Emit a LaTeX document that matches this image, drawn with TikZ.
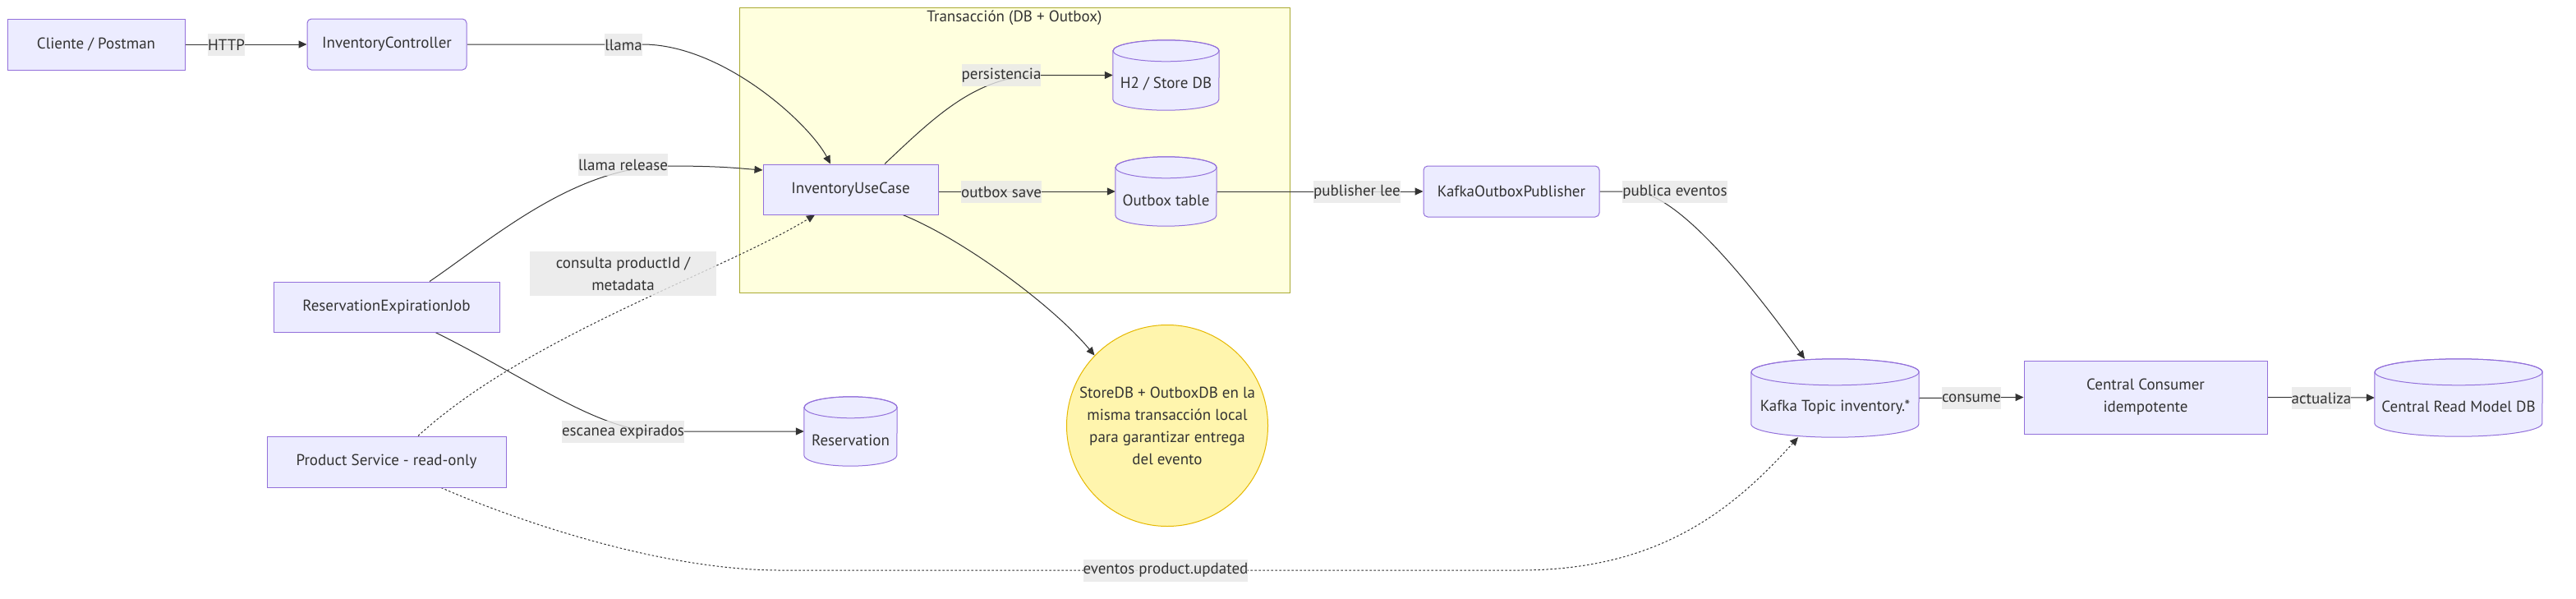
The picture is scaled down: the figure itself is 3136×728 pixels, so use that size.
\documentclass[tikz,border=0pt]{standalone}
\usepackage{fontspec}
\setmainfont{PT Sans}
\usetikzlibrary{arrows.meta}
\definecolor{nfill}{HTML}{ECECFF}
\definecolor{nline}{HTML}{9370DB}
\definecolor{cfill}{HTML}{FFFFDE}
\definecolor{cline}{HTML}{AAAA33}
\definecolor{edgec}{HTML}{333333}
\definecolor{txt}{HTML}{333333}
\definecolor{lblbg}{HTML}{E8E8E8}
\definecolor{notef}{HTML}{FFF5AD}
\definecolor{notel}{HTML}{E6B800}
\pgfdeclarelayer{bg}
\pgfdeclarelayer{edges}
\pgfsetlayers{bg,edges,main}
\tikzset{
  base/.style={font=\fontsize{19}{27}\selectfont, text=txt},
  box/.style={base, draw=nline, fill=nfill, line width=1pt, inner sep=0pt, align=center},
  rbox/.style={box, rounded corners=5pt},
  lbl/.style={base, fill=lblbg, fill opacity=0.8, text opacity=1, inner xsep=0pt, inner ysep=0pt, minimum height=27pt, align=center},
  edge/.style={draw=edgec, line width=1pt, -{Triangle[length=10pt,width=9pt]}},
  dotedge/.style={edge, line width=1pt, dash pattern=on 2.5pt off 2.5pt},
  cylbox/.style={draw=none, fill=none, inner sep=0pt, shape=rectangle},
  cylfill/.style={fill=nfill, draw=nline, line width=1pt},
  cluster/.style={draw=cline, fill=cfill, line width=1pt, inner sep=0pt},
  notestyle/.style={base, circle, draw=notel, fill=notef, line width=1pt, minimum size=245pt, inner sep=0pt, align=center}
}
% name, cx, cy, w, h, ry, text
\newcommand\dbcyl[7]{%
  \node[cylbox, minimum width=#4pt, minimum height=#5pt] (#1) at (#2,#3) {};
  \path[cylfill] ([yshift=-#6pt]#1.north west) -- ([yshift=#6pt]#1.south west)
    arc[start angle=180, end angle=360, x radius=#4pt/2, y radius=#6pt]
    -- ([yshift=-#6pt]#1.north east)
    arc[start angle=0, end angle=180, x radius=#4pt/2, y radius=#6pt] -- cycle;
  \draw[draw=nline, line width=1pt] ([yshift=-#6pt]#1.north) ellipse[x radius=#4pt/2, y radius=#6pt];
  \node[base] (#1-t) at ([yshift=-11pt]#1.center) {#7};
}
\begin{document}
\begin{tikzpicture}[x=1pt,y=-1pt]
\useasboundingbox (0,0) rectangle (3136,728);
\begin{pgfonlayer}{bg}
\fill[white] (0,0) rectangle (3136,728);
\node[cluster, minimum width=670pt, minimum height=347pt] (tx) at (1235,182.5) {};
\end{pgfonlayer}
\node[base] (txtitle) at (1235,22) {Transacción (DB + Outbox)};

% nodes
\node[box, minimum width=216pt, minimum height=62pt] (cli) at (117,54) {Cliente / Postman};
\node[rbox, minimum width=194pt, minimum height=62pt] (ctrl) at (471,54) {InventoryController};
\node[box, minimum width=213pt, minimum height=61pt] (uc) at (1035.5,230.5) {InventoryUseCase};
\node[rbox, minimum width=214pt, minimum height=62pt] (pub) at (1840,233) {KafkaOutboxPublisher};
\node[box, minimum width=275pt, minimum height=61pt] (job) at (470.5,373.5) {ReservationExpirationJob};
\node[box, minimum width=291pt, minimum height=62pt] (prod) at (470.5,562) {Product Service - read-only};
\node[box, minimum width=296pt, minimum height=89pt] (cc) at (2612,483.5) {Central Consumer\\idempotente};
\node[notestyle] (note) at (1421,518) {StoreDB + OutboxDB en la\\misma transacción local\\para garantizar entrega\\del evento};

\dbcyl{h2}{1419.5}{91.5}{129}{85}{13}{H2 / Store DB}
\dbcyl{out}{1419.5}{233}{123}{84}{13}{Outbox table}
\dbcyl{res}{1035.5}{525}{113}{84}{13}{Reservation}
\dbcyl{kafka}{2234}{484.5}{204}{95}{16}{Kafka Topic inventory.*}
\dbcyl{crm}{2993}{484}{204}{94}{16}{Central Read Model DB}

% edges
\begin{pgfonlayer}{edges}
\draw[edge] (cli.east) -- (ctrl.west);
\draw[edge] (ctrl.east) -- (782,54) .. controls (880,54) and (985,150) .. ([xshift=-24.5pt]uc.north);
\draw[edge] ([xshift=52.5pt]job.north) .. controls (600,290) and (700,202) .. (813,202) .. controls (880,202) and (900,205) .. ([yshift=23.5pt]uc.west);
\draw[dotedge] ([xshift=38.5pt]prod.north) .. controls (640,410) and (880,330) .. ([xshift=-43.5pt]uc.south);
\draw[edge] ([xshift=41.5pt]uc.north) .. controls (1140,140) and (1190,91.5) .. (1267,91.5) -- (h2.west);
\draw[edge] (uc.east |- out.west) -- (out.west);
\draw[edge] (out.east) -- (pub.west);
\draw[edge] (pub.east) -- (1990,233) .. controls (2040,236) and (2120,330) .. ([xshift=-37pt]kafka.north);
\draw[edge] ([xshift=63.5pt]uc.south) .. controls (1170,290) and (1280,370) .. (note.136);
\draw[edge] ([xshift=59.5pt]job.south) .. controls (640,459) and (730,525) .. (800,525) -- (res.west);
\draw[dotedge] ([xshift=66.5pt]prod.south) .. controls (620,630) and (800,694) .. (950,694) -- (1850,694) .. controls (2020,694) and (2110,620) .. ([xshift=-45pt]kafka.south);
\draw[edge] (kafka.east) -- (cc.west);
\draw[edge] (cc.east) -- (crm.west);
\end{pgfonlayer}

% edge labels
\node[lbl] (l-http) at (275.5,54.5) {HTTP};
\node[lbl] (l-llama) at (759,54.5) {llama};
\node[lbl] (l-release) at (758.5,200.5) {llama release};
\node[lbl, minimum width=227pt, minimum height=54pt] (l-consulta) at (758.5,333) {consulta productId /\\metadata};
\node[lbl] (l-pers) at (1219,91.5) {persistencia};
\node[lbl] (l-osave) at (1219,233.5) {outbox save};
\node[lbl] (l-plee) at (1652,233.5) {publisher lee};
\node[lbl] (l-pub) at (2039,233.5) {publica eventos};
\node[lbl] (l-esc) at (758.5,525.5) {escanea expirados};
\node[lbl] (l-cons) at (2400,484.5) {consume};
\node[lbl] (l-act) at (2826,484.5) {actualiza};
\node[lbl] (l-ev) at (1419,694) {eventos product.updated};
\end{tikzpicture}
\end{document}
